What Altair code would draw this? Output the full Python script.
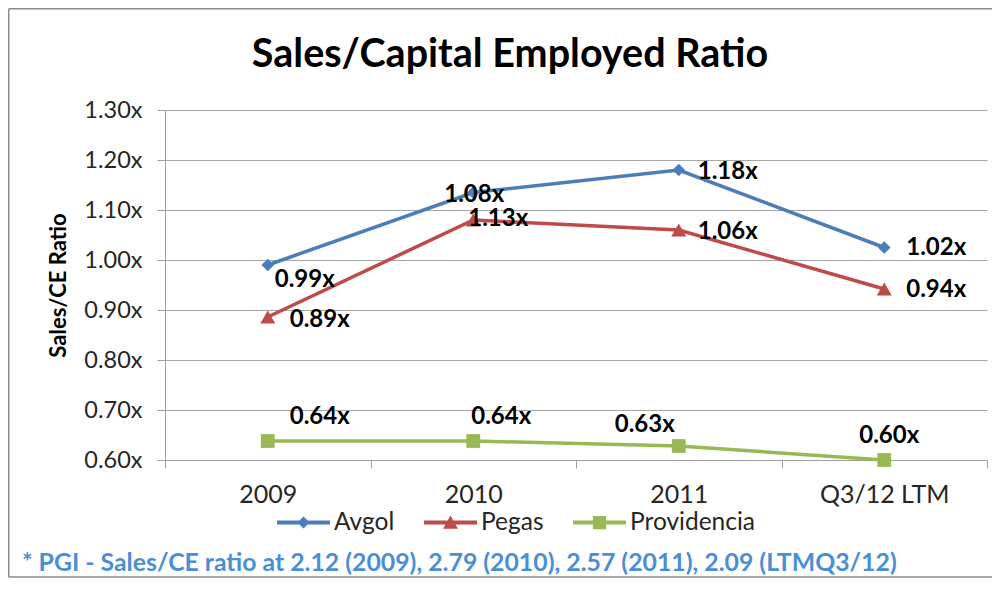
import altair as alt
import pandas as pd

# ---------------- data ----------------
categories = ["2009", "2010", "2011", "Q3/12 LTM"]
series_names = ["Avgol", "Pegas", "Providencia"]
avgol = [0.99, 1.135, 1.18, 1.025]
pegas = [0.886, 1.08, 1.06, 0.942]
providencia = [0.638, 0.638, 0.628, 0.600]
avgol_labels = ["0.99x", "1.08x", "1.18x", "1.02x"]
pegas_labels = ["0.89x", "1.13x", "1.06x", "0.94x"]
providencia_labels = ["0.64x", "0.64x", "0.63x", "0.60x"]
y_ticks = [0.6, 0.7, 0.8, 0.9, 1.0, 1.1, 1.2, 1.3]
title_text = "Sales/Capital Employed Ratio"
y_title = "Sales/CE Ratio"
footnote = "* PGI - Sales/CE ratio at 2.12 (2009), 2.79 (2010), 2.57 (2011), 2.09 (LTMQ3/12)"

# ---------------- styles ----------------
FONT = "Lato"
colors = ["#4a7ebb", "#be4b48", "#98b954"]
shapes = ["diamond", "triangle-up", "square"]
shape_sizes = [160, 225, 190]
legend_paths = [
    "M-1,-0.075H1V0.075H-1Z M0,-0.23L0.23,0L0,0.23L-0.23,0Z",
    "M-1,-0.075H1V0.075H-1Z M0,-0.26L0.28,0.24L-0.28,0.24Z",
    "M-1,-0.075H1V0.075H-1Z M-0.25,-0.25H0.25V0.25H-0.25Z",
]
# per-label pixel offsets (dx, dy), left aligned
label_offsets = {
    "Avgol": [(7, 15), (-29, 2), (19, 2), (22, 0)],
    "Pegas": [(22, 3), (-5, -1), (19, 2), (22, 1)],
    "Providencia": [(22, -24), (-2, -24), (-64, -21), (-25, -24)],
}

values = {"Avgol": avgol, "Pegas": pegas, "Providencia": providencia}
labels = {"Avgol": avgol_labels, "Pegas": pegas_labels, "Providencia": providencia_labels}

rows = []
for s in series_names:
    for i, c in enumerate(categories):
        rows.append({"series": s, "category": c, "value": values[s][i], "label": labels[s][i]})
df = pd.DataFrame(rows)

W, H = 822, 350
PAD_L, PAD_T = 157, 102
TOTAL_W, TOTAL_H = 984, 570

x_enc = alt.X(
    "category:N",
    sort=categories,
    scale=alt.Scale(type="band", domain=categories, paddingInner=0, paddingOuter=0),
    axis=alt.Axis(
        title=None, labelAngle=0, tickBand="extent", tickSize=8, labelPadding=14,
        labelFont=FONT, labelFontSize=25, labelColor="#262626",
        domainColor="#a0a0a0", tickColor="#a0a0a0", grid=False,
    ),
)
y_enc = alt.Y(
    "value:Q",
    scale=alt.Scale(domain=[0.6, 1.3], nice=False, zero=False),
    axis=alt.Axis(
        values=y_ticks, labelExpr="format(datum.value, '.2f') + 'x'",
        title=y_title, titleFont=FONT, titleFontSize=22, titleFontWeight="bold",
        titleColor="#000000", titlePadding=13,
        labelFont=FONT, labelFontSize=23.5, labelColor="#262626", labelPadding=15,
        tickSize=8, domainColor="#a0a0a0", tickColor="#a0a0a0",
        grid=True, gridColor="#a6a6a6", gridWidth=1,
    ),
)

base = alt.Chart(df)
layers = []

# lines and markers, one layer per series (constant colours, no legend here)
for i, s in enumerate(series_names):
    sub = base.transform_filter(alt.datum.series == s)
    layers.append(sub.mark_line(strokeWidth=3.5, color=colors[i]).encode(x=x_enc, y=y_enc))
for i, s in enumerate(series_names):
    sub = base.transform_filter(alt.datum.series == s)
    layers.append(
        sub.mark_point(filled=True, opacity=1, shape=shapes[i], size=shape_sizes[i], color=colors[i])
        .encode(x=x_enc, y=y_enc)
    )

# legend-only layer: draws nothing, legend built from explicit scale domains
legend_kwargs = dict(
    orient="none", legendX=112, legendY=386, direction="horizontal", title=None,
    symbolSize=2809, symbolOpacity=1, symbolStrokeWidth=0,
    labelFont=FONT, labelFontSize=24.5, labelColor="#262626", labelOffset=4,
    columnPadding=29, padding=0,
)
legend_layer = base.transform_filter("false").mark_point(filled=True).encode(
    x=x_enc, y=y_enc,
    color=alt.Color("series:N", scale=alt.Scale(domain=series_names, range=colors),
                    legend=alt.Legend(**legend_kwargs)),
    shape=alt.Shape("series:N", scale=alt.Scale(domain=series_names, range=legend_paths),
                    legend=alt.Legend(**legend_kwargs)),
)
layers.append(legend_layer)

for s in series_names:
    for i, c in enumerate(categories):
        dx, dy = label_offsets[s][i]
        layers.append(
            base.transform_filter((alt.datum.series == s) & (alt.datum.category == c))
            .mark_text(align="left", baseline="middle", dx=dx, dy=dy, font=FONT,
                       fontSize=24, fontWeight="bold", color="#000000")
            .encode(x=x_enc, y=y_enc, text="label:N")
        )

one = pd.DataFrame({"t": [title_text], "f": [footnote]})
title_layer = alt.Chart(one).mark_text(
    align="center", baseline="middle", font=FONT, fontSize=39.5, fontWeight="bold", color="#000000"
).encode(x=alt.value(345), y=alt.value(-55), text="t:N")
foot_layer = alt.Chart(one).mark_text(
    align="left", baseline="middle", font=FONT, fontSize=24.8, fontWeight="bold", color="#4a8fd6"
).encode(x=alt.value(-143), y=alt.value(454), text="f:N")

frame_style = dict(stroke="#8c8c8c", strokeWidth=1.5)
frame_top = alt.Chart(one).mark_rule(**frame_style).encode(
    x=alt.value(-156.25), x2=alt.value(900), y=alt.value(-101.25))
frame_left = alt.Chart(one).mark_rule(**frame_style).encode(
    x=alt.value(-156.25), y=alt.value(-101.25), y2=alt.value(467))
frame_bottom = alt.Chart(one).mark_rule(**frame_style).encode(
    x=alt.value(-156.25), x2=alt.value(900), y=alt.value(467))

layers += [title_layer, foot_layer, frame_top, frame_left, frame_bottom]

chart = (
    alt.layer(*layers)
    .properties(
        width=W, height=H,
        autosize=alt.AutoSizeParams(type="none"),
        padding={"left": PAD_L, "top": PAD_T, "right": TOTAL_W - PAD_L - W,
                 "bottom": TOTAL_H - PAD_T - H},
        background="#ffffff",
    )
    .configure_view(stroke=None)
)

chart.save("out.html", embed_options={"renderer": "svg", "actions": False})
